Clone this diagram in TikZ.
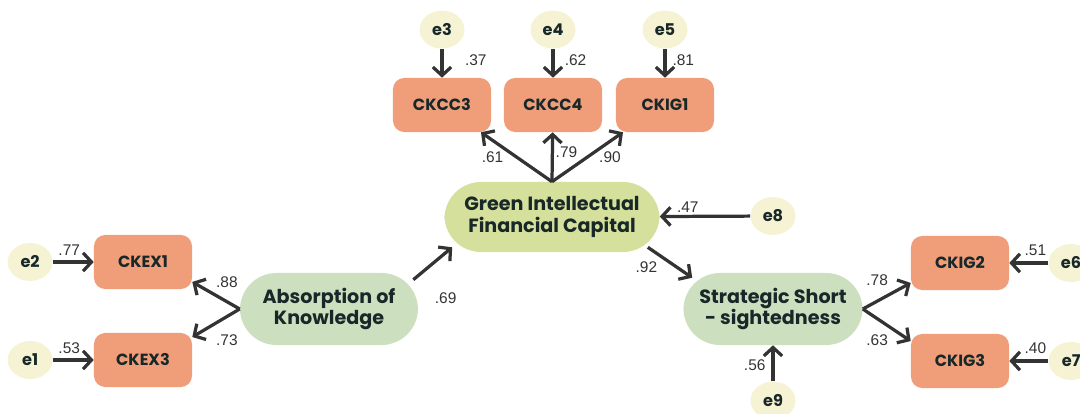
\documentclass[tikz,border=0pt]{standalone}
\usepackage{fontspec}
\setmainfont{Poppins}
\newfontfamily\numfont{Liberation Sans}
\usetikzlibrary{arrows.meta, positioning, calc, shapes.geometric}

\definecolor{itemorange}{HTML}{F09D7A}
\definecolor{gicgreen}{HTML}{D5E09C}
\definecolor{latmint}{HTML}{CCE0C0}
\definecolor{errcream}{HTML}{F6F3D4}
\definecolor{pathgray}{HTML}{333333}
\definecolor{inkdark}{HTML}{182828}

\begin{document}
\begin{tikzpicture}[
x=0.025cm, y=-0.025cm,
>={Straight Barb[length=6pt,width=13pt,line join=miter]},
font=\bfseries,
text=inkdark,
latent/.style={
rounded corners=26pt,
minimum width=#1,
minimum height=1.8cm,
align=center,
font=\fontsize{13.6}{15.5}\selectfont\bfseries
},
item/.style={
fill=itemorange,
rounded corners=8pt,
minimum width=2.45cm,
minimum height=1.35cm,
font=\fontsize{11.5}{13}\selectfont\bfseries
},
err/.style={
ellipse,
fill=errcream,
inner sep=0pt,
minimum width=1.125cm,
minimum height=0.95cm,
font=\fontsize{11.5}{13}\selectfont\bfseries
},
link/.style={->, line width=2.3pt, draw=pathgray},
num/.style={font=\numfont\fontsize{11}{13}\selectfont, text=pathgray, inner sep=1pt}
]
\path[use as bounding box, clip] (0,0) rectangle (1080,414);

% Latent variables
\node[latent=5.375cm, fill=gicgreen, minimum height=1.75cm] (gifc) at (552,217) {Green Intellectual\\Financial Capital};
\node[latent=4.45cm, fill=latmint] (ak) at (329,309) {Absorption of\\Knowledge};
\node[latent=4.475cm, fill=latmint] (sss) at (773,309) {Strategic Short\\- sightedness};

% Observed items
\node[item] (ckcc3) at (442,105) {CKCC3};
\node[item] (ckcc4) at (553,105) {CKCC4};
\node[item] (ckig1) at (665,105) {CKIG1};
\node[item] (ckex1) at (143,262) {CKEX1};
\node[item] (ckex3) at (143,360) {CKEX3};
\node[item] (ckig2) at (960,263) {CKIG2};
\node[item] (ckig3) at (960,361) {CKIG3};

% Error terms
\node[err, above=0.72cm of ckcc3] (e3) {e3};
\node[err, above=0.72cm of ckcc4] (e4) {e4};
\node[err, above=0.72cm of ckig1] (e5) {e5};
\node[err, left=1.02cm of ckex1] (e2) {e2};
\node[err, left=1.02cm of ckex3] (e1) {e1};
\node[err, right=0.975cm of ckig2] (e6) {e6};
\node[err, right=0.975cm of ckig3] (e7) {e7};
\node[err] (e8) at (773,216) {e8};
\node[err, below=0.9cm of sss] (e9) {e9};

% Errors -> items
\draw[link] (e3) -- node[num, pos=0.38, xshift=24pt] {.37} (ckcc3);
\draw[link] (e4) -- node[num, pos=0.38, xshift=16pt] {.62} (ckcc4);
\draw[link] (e5) -- node[num, pos=0.38, xshift=13pt] {.81} (ckig1);
\draw[link] (e2) -- node[num, pos=0.4, yshift=8.5pt] {.77} (ckex1);
\draw[link] (e1) -- node[num, pos=0.4, yshift=8.5pt] {.53} (ckex3);
\draw[link] (e6) -- node[num, pos=0.33, yshift=9pt] {.51} (ckig2);
\draw[link] (e7) -- node[num, pos=0.33, yshift=9pt] {.40} (ckig3);

% Errors -> latents
\draw[link] (e8) -- node[num, pos=0.69, yshift=6.5pt] {.47} (gifc);
\draw[link] (e9) -- node[num, pos=0.44, xshift=-13pt] {.56} (sss);

% Loadings
\draw[link] (gifc.north) -- node[num, pos=0.5, xshift=-17pt] {.61} (ckcc3.-35);
\draw[link] (gifc.north) -- node[num, pos=0.6, xshift=10pt] {.79} (ckcc4);
\draw[link] (gifc.north) -- node[num, pos=0.5, xshift=16pt] {.90} (ckig1.213);
\draw[link] (ak.west) -- node[num, pos=0.27, yshift=14pt] {.88} (ckex1.-22);
\draw[link] (ak.west) -- node[num, pos=0.27, yshift=-17pt] {.73} (ckex3.25);
\draw[link] (sss.east) -- node[num, pos=0.3, yshift=15pt] {.78} (ckig2.202);
\draw[link] (sss.east) -- node[num, pos=0.3, yshift=-15.5pt] {.63} (ckig3.158);

% Structural paths
\draw[link] ($(ak.north east)+(-5,7)$) -- node[num, pos=0, xshift=23pt, yshift=-13pt] {.69} ($(gifc.south west)+(8,-5)$);
\draw[link] ($(gifc.south east)+(-12,-5)$) -- node[num, pos=0, xshift=-1pt, yshift=-14pt] {.92} ($(sss.north west)+(9,5)$);

\end{tikzpicture}
\end{document}
